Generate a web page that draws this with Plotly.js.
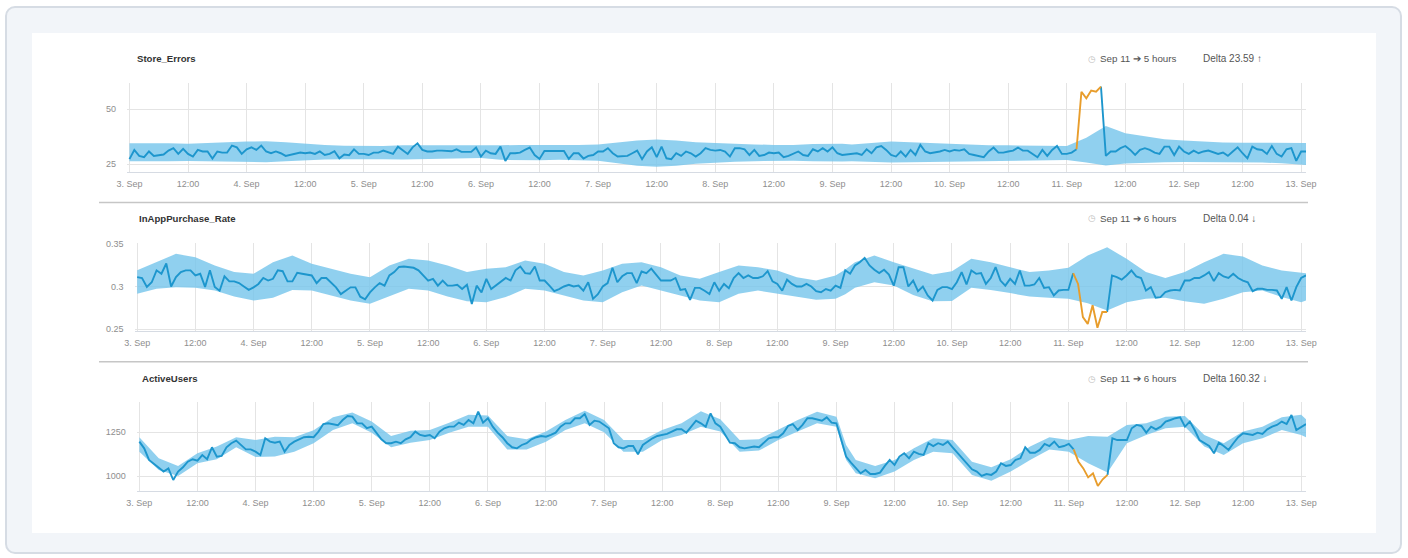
<!DOCTYPE html>
<html>
<head>
<meta charset="utf-8">
<script src="https://cdn.plot.ly/plotly-3.0.1.min.js"></script>
<style>
  html, body { margin: 0; padding: 0; background: #ffffff; }
  #frame { position: absolute; left: 5px; top: 6px; width: 1397px; height: 548px; box-sizing: border-box;
           border: 2px solid #d6dce4; border-radius: 10px; background: #f2f5f9; }
  #card { position: absolute; left: 32px; top: 33px; width: 1344px; height: 500px; background: #ffffff; }
  #chart { position: absolute; left: 0; top: 0; width: 1408px; height: 558px; }
</style>
</head>
<body>
<div id="frame"></div>
<div id="card"></div>
<div id="chart"></div>
<script>
// ---------- DATA (hourly, starting 3 Sep 00:00) ----------
const seriesNames = ['Store_Errors', 'InAppPurchase_Rate', 'ActiveUsers'];
const anomalyLabels = ['Sep 11 \u2794 5 hours', 'Sep 11 \u2794 6 hours', 'Sep 11 \u2794 6 hours'];
const deltaLabels = ['Delta 23.59 \u2191', 'Delta 0.04 \u2193', 'Delta 160.32 \u2193'];

const tickHours = [0,12,24,36,48,60,72,84,96,108,120,132,144,156,168,180,192,204,216,228,240];
const tickLabels = ['3. Sep','12:00','4. Sep','12:00','5. Sep','12:00','6. Sep','12:00','7. Sep','12:00',
  '8. Sep','12:00','9. Sep','12:00','10. Sep','12:00','11. Sep','12:00','12. Sep','12:00','13. Sep'];

const storeErrors = [
  27.3,31.5,28.8,28.2,30.8,28.8,29.1,29.4,31.2,32.3,29.7,32.0,
  29.7,28.5,31.5,30.8,30.8,27.6,30.8,30.3,30.3,33.5,32.7,29.7,
  31.8,32.7,31.5,33.5,30.8,30.0,30.8,30.0,28.8,29.2,29.7,30.3,
  30.0,30.3,29.7,30.8,29.2,29.7,30.9,27.7,29.4,29.1,31.8,29.7,
  29.7,29.2,30.3,30.3,31.2,30.3,29.7,33.0,31.5,29.7,32.7,34.5,
  31.5,30.8,30.8,31.2,31.2,30.9,30.9,31.8,30.6,30.6,30.6,32.6,
  28.5,31.2,30.0,29.7,33.0,26.5,30.0,30.0,30.3,31.5,32.6,29.2,
  27.4,31.0,31.0,31.0,31.0,31.0,27.4,30.0,30.0,27.6,28.8,29.2,
  30.8,30.8,32.3,30.0,28.5,28.5,28.8,30.0,31.2,27.3,30.8,32.7,
  28.2,33.0,27.7,27.3,30.0,28.8,30.8,30.0,28.5,30.0,32.3,31.5,
  31.2,31.5,30.8,28.5,32.3,32.3,31.8,29.2,31.5,28.8,29.2,30.3,
  30.0,30.3,28.2,28.8,29.7,30.8,29.2,28.8,31.8,30.8,32.3,30.8,
  32.7,30.0,29.2,29.5,29.7,30.0,29.2,31.8,30.0,32.7,33.3,31.5,
  29.2,28.5,30.8,28.5,31.5,29.2,33.8,30.8,30.0,30.3,30.8,31.5,
  30.8,31.5,31.2,31.8,29.7,29.2,28.8,28.2,30.8,32.6,30.3,30.3,
  30.8,31.2,32.6,31.2,31.2,29.7,28.2,31.5,28.8,31.5,33.3,29.7,
  29.7,30.3,31.8,58.0,55.0,58.5,58.0,60.3,28.8,30.8,30.8,32.3,
  33.3,31.5,29.2,31.5,32.3,31.5,30.3,29.7,33.0,33.0,29.2,33.0,
  30.8,29.7,31.2,30.0,30.8,31.2,30.3,29.7,30.3,28.8,30.8,32.7,
  30.0,27.7,33.0,31.8,31.5,29.7,33.3,29.7,28.5,31.8,32.3,26.5,
  30.8,30.8
];
const inAppPurchaseRate = [
  0.311,0.310,0.2995,0.305,0.319,0.315,0.327,0.300,0.311,0.317,0.319,0.319,
  0.313,0.315,0.2995,0.319,0.2995,0.295,0.312,0.306,0.306,0.304,0.300,0.296,
  0.299,0.303,0.310,0.307,0.309,0.319,0.318,0.306,0.306,0.316,0.315,0.314,
  0.313,0.304,0.310,0.310,0.305,0.299,0.291,0.295,0.299,0.299,0.288,0.285,
  0.293,0.299,0.304,0.301,0.313,0.317,0.323,0.3235,0.323,0.322,0.319,0.313,
  0.307,0.309,0.301,0.307,0.301,0.301,0.302,0.297,0.302,0.2795,0.301,0.293,
  0.309,0.297,0.301,0.305,0.310,0.307,0.319,0.3235,0.3157,0.315,0.3235,0.307,
  0.307,0.301,0.2945,0.297,0.300,0.302,0.300,0.301,0.295,0.305,0.2855,0.291,
  0.300,0.304,0.322,0.305,0.312,0.3157,0.3157,0.304,0.3176,0.3157,0.321,0.314,
  0.307,0.307,0.307,0.310,0.296,0.297,0.2843,0.2984,0.2984,0.295,0.291,0.305,
  0.295,0.303,0.298,0.310,0.3157,0.310,0.313,0.310,0.310,0.312,0.318,0.306,
  0.303,0.295,0.308,0.303,0.300,0.300,0.303,0.300,0.2945,0.2933,0.297,0.295,
  0.301,0.2984,0.319,0.315,0.3247,0.3286,0.3337,0.3247,0.3196,0.3157,0.3196,0.314,
  0.301,0.3227,0.3227,0.300,0.307,0.2945,0.300,0.2894,0.2835,0.296,0.2992,0.2992,
  0.297,0.305,0.3169,0.3024,0.3188,0.3149,0.3157,0.303,0.310,0.3227,0.307,0.301,
  0.309,0.303,0.3188,0.301,0.301,0.3024,0.310,0.2984,0.2992,0.2894,0.2953,0.296,
  0.296,0.3157,0.303,0.264,0.256,0.278,0.2515,0.270,0.270,0.313,0.311,0.308,
  0.313,0.3188,0.3118,0.310,0.2953,0.2992,0.2867,0.2875,0.2933,0.2953,0.296,0.2953,
  0.307,0.307,0.310,0.310,0.313,0.3169,0.3063,0.3157,0.3118,0.310,0.3149,0.310,
  0.307,0.305,0.2945,0.2973,0.2973,0.296,0.296,0.2953,0.2855,0.2992,0.2835,0.2992,
  0.310,0.313
];
const activeUsers = [
  1197,1159,1093,1070,1051,1027,1045,979,1027,1051,1083,1097,
  1089,1121,1097,1165,1112,1116,1165,1188,1203,1178,1153,1153,
  1140,1121,1216,1197,1191,1197,1140,1178,1197,1210,1222,1225,
  1222,1254,1297,1301,1295,1290,1320,1343,1339,1301,1301,1273,
  1282,1248,1210,1188,1188,1197,1188,1210,1222,1254,1235,1229,
  1235,1216,1254,1273,1282,1282,1305,1292,1320,1301,1367,1305,
  1330,1282,1248,1222,1188,1165,1159,1178,1188,1210,1222,1229,
  1225,1235,1248,1282,1301,1301,1330,1330,1354,1292,1316,1311,
  1292,1273,1188,1165,1159,1172,1172,1125,1178,1197,1216,1229,
  1235,1241,1254,1267,1267,1248,1282,1316,1301,1282,1358,1301,
  1282,1235,1191,1188,1165,1159,1165,1169,1165,1188,1216,1222,
  1222,1244,1286,1297,1263,1292,1330,1330,1324,1316,1335,1305,
  1301,1206,1112,1078,1045,1017,1036,1013,1013,1021,1059,1093,
  1064,1112,1131,1102,1140,1127,1121,1188,1172,1188,1178,1197,
  1165,1134,1102,1070,1040,1027,1002,1013,1008,1027,1074,1059,
  1064,1093,1102,1165,1134,1134,1150,1184,1172,1197,1165,1172,
  1184,1153,1083,1045,994,1017,945,983,1008,1216,1206,1206,
  1206,1273,1292,1286,1248,1282,1267,1282,1311,1320,1330,1335,
  1282,1311,1263,1206,1188,1172,1131,1191,1172,1150,1188,1222,
  1244,1241,1235,1248,1241,1267,1282,1292,1311,1297,1348,1263,
  1282,1297
];

// anomaly windows [start hour, end hour]
const storeAnomaly = [194, 199];
const rateAnomaly = [193, 200];
const usersAnomaly = [193, 200];

// expected range band (sampled)
const bandHours = [0,4,8,12,16,20,24,28,32,36,40,44,48,52,56,60,64,68,72,76,80,84,88,92,96,100,104,108,112,116,
  120,124,128,132,136,140,144,146,148,152,156,160,164,168,172,176,180,184,188,192,196,200,204,208,212,216,220,224,
  228,232,236,240,241];
const storeUpper = [34.5,34.6,34.5,34.3,34.5,35.0,35.3,35.4,35.0,34.3,
  33.8,33.4,33.2,33.3,33.6,33.6,33.4,33.3,33.3,33.6,
  33.8,33.7,33.6,33.8,34.0,34.8,35.8,36.2,35.8,35.0,
  34.6,34.4,34.0,33.8,33.8,34.2,34.4,34.3,34.0,34.8,35.3,
  35.0,34.6,34.2,33.8,33.6,33.6,33.4,33.2,33.3,37.0,
  42.4,39.1,37.6,36.4,35.8,35.3,34.9,34.8,34.8,34.8,34.8,34.7];
const storeLower = [26.3,26.2,26.4,26.5,26.3,26.0,25.8,25.9,26.3,26.8,
  27.1,27.3,27.4,27.3,27.2,27.4,27.7,27.9,27.8,27.0,
  26.8,26.8,27.0,26.8,26.6,25.5,24.3,23.9,24.3,25.2,
  25.8,26.1,26.4,26.6,26.6,26.3,26.1,26.2,26.4,26.0,25.8,
  25.9,26.0,26.0,26.2,26.4,26.4,26.6,26.8,26.9,25.8,
  24.4,25.3,25.7,25.9,26.0,26.0,26.0,25.9,25.8,25.4,24.8,24.7];
const rateUpper = [0.319,0.3286,0.3384,0.3345,0.3247,0.317,0.315,0.3286,0.3365,0.3267,
  0.3208,0.315,0.311,0.3247,0.3325,0.3306,0.3247,0.317,0.3208,0.3227,
  0.3306,0.3267,0.3169,0.313,0.3188,0.3267,0.3286,0.3227,0.313,0.309,
  0.3169,0.3247,0.3227,0.3188,0.311,0.307,0.313,0.320,0.3286,0.3365,0.3286,
  0.321,0.314,0.318,0.3325,0.3286,0.3227,0.3169,0.3188,0.322,0.3365,
  0.3463,0.3325,0.3169,0.310,0.3169,0.3286,0.3384,0.3353,0.3247,0.3188,0.3157,0.3157];
const rateLower = [0.2914,0.2973,0.2992,0.2984,0.2953,0.2882,0.2835,0.2867,0.296,0.2953,
  0.2894,0.2835,0.2796,0.2882,0.2973,0.2953,0.2882,0.2827,0.2816,0.2875,
  0.2973,0.2953,0.2894,0.2835,0.2816,0.2933,0.3012,0.2953,0.2894,0.2835,
  0.2816,0.2914,0.2953,0.2914,0.2875,0.2843,0.2855,0.291,0.2984,0.3051,0.3012,
  0.290,0.2825,0.283,0.2984,0.296,0.2922,0.2882,0.2867,0.2855,0.2804,
  0.2718,0.2816,0.2855,0.2867,0.2827,0.2796,0.2855,0.2933,0.2953,0.2875,0.2816,0.2835];
const usersUpper = [1222,1102,1059,1131,1170,1222,1206,1225,1222,1262,
  1335,1362,1311,1229,1259,1263,1305,1350,1345,1229,
  1210,1254,1320,1373,1320,1206,1206,1263,1301,1370,
  1324,1206,1210,1263,1320,1367,1339,1178,1093,1059,1093,
  1159,1216,1206,1083,1051,1097,1170,1222,1206,1229,
  1225,1292,1301,1339,1343,1235,1188,1254,1282,1335,1350,1324];
const usersLower = [1140,1036,1002,1074,1097,1165,1110,1112,1140,1188,
  1263,1301,1248,1165,1191,1206,1248,1282,1282,1153,
  1153,1197,1263,1301,1250,1140,1140,1206,1235,1282,
  1254,1140,1146,1206,1254,1301,1282,1093,1017,989,1027,
  1093,1140,1131,1008,975,1027,1093,1153,1140,1074,
  1021,1188,1235,1273,1282,1169,1121,1188,1216,1263,1235,1222];

const yTicks = [[25, 50], [0.25, 0.3, 0.35], [1000, 1250]];
const yTickText = [['25', '50'], ['0.25', '0.3', '0.35'], ['1000', '1250']];

// ---------- STYLE / LAYOUT ----------
const W = 1408, H = 558;
const FONT = 'Liberation Sans, Arial, Helvetica, sans-serif';
const LINE = '#1d96cd', BAND = 'rgba(120,198,236,0.82)', ORANGE = '#e89d2c';
const BASE = Date.UTC(2018, 8, 3, 0, 0);
function t(h) { return new Date(BASE + h * 3600000).toISOString().slice(0, 19).replace('T', ' '); }
const px = x => x / W, py = y => 1 - y / H;

const hours = storeErrors.map((_, i) => i);
const panels = [
  { vals: storeErrors, lo: storeLower, hi: storeUpper, anom: storeAnomaly, x: [127, 1306], y: [82.7, 171.7], yr: [21.6, 62.1], hx0: -0.5, titleX: 134.5, rowY: 58.7 },
  { vals: inAppPurchaseRate, lo: rateLower, hi: rateUpper, anom: rateAnomaly, x: [134.5, 1306], y: [243.3, 330.7], yr: [0.248, 0.3508], hx0: -0.55, titleX: 137, rowY: 218.3 },
  { vals: activeUsers, lo: usersLower, hi: usersUpper, anom: usersAnomaly, x: [136.7, 1306], y: [402.3, 491], yr: [916.5, 1420.5], hx0: -0.55, titleX: 139.5, rowY: 378.6 }
];

const traces = [];
const layout = {
  width: W, height: H, margin: { l: 0, r: 0, t: 0, b: 0 },
  paper_bgcolor: 'rgba(0,0,0,0)', plot_bgcolor: 'rgba(0,0,0,0)',
  showlegend: false, hovermode: false, font: { family: FONT },
  annotations: [], shapes: []
};
const bandX = bandHours.map(t);
const lineX = hours.map(t);

panels.forEach((p, i) => {
  const sfx = i === 0 ? '' : String(i + 1);
  const xa = 'x' + sfx, ya = 'y' + sfx;
  traces.push({ x: bandX, y: p.lo, xaxis: xa, yaxis: ya, type: 'scatter', mode: 'lines', line: { width: 0, color: BAND } });
  traces.push({ x: bandX, y: p.hi, xaxis: xa, yaxis: ya, type: 'scatter', mode: 'lines', line: { width: 0, color: BAND }, fill: 'tonexty', fillcolor: BAND });
  const blue = p.vals.map((v, h) => (h > p.anom[0] && h < p.anom[1]) ? null : v);
  const orange = p.vals.map((v, h) => (h >= p.anom[0] && h <= p.anom[1]) ? v : null);
  traces.push({ x: lineX, y: blue, xaxis: xa, yaxis: ya, type: 'scatter', mode: 'lines', connectgaps: false, line: { width: 1.9, color: LINE, shape: 'linear' } });
  traces.push({ x: lineX, y: orange, xaxis: xa, yaxis: ya, type: 'scatter', mode: 'lines', connectgaps: false, line: { width: 1.9, color: ORANGE } });

  layout['xaxis' + sfx] = {
    domain: [px(p.x[0]), px(p.x[1])], anchor: ya, type: 'date',
    range: [t(p.hx0), t(241)], tickvals: tickHours.map(t), ticktext: tickLabels, tickmode: 'array',
    showgrid: true, gridcolor: '#e4e4e4', gridwidth: 1, zeroline: false,
    showline: true, linecolor: '#d6dbe3', linewidth: 1, ticks: '',
    tickfont: { family: FONT, size: 9, color: '#8e8e8e' }, ticklabelstandoff: 3, fixedrange: true
  };
  layout['yaxis' + sfx] = {
    domain: [py(p.y[1]), py(p.y[0])], anchor: xa, range: p.yr,
    tickvals: yTicks[i], ticktext: yTickText[i], tickmode: 'array',
    showgrid: true, gridcolor: '#e4e4e4', gridwidth: 1, zeroline: false, showline: false, ticks: '',
    tickfont: { family: FONT, size: 9, color: '#8e8e8e' }, ticklabelstandoff: 10, fixedrange: true
  };

  layout.annotations.push({ text: '<b>' + seriesNames[i] + '</b>', xref: 'paper', yref: 'paper', x: px(p.titleX), y: py(p.rowY),
    xanchor: 'left', yanchor: 'middle', showarrow: false, font: { family: FONT, size: 9.6, color: '#333333' } });
  layout.annotations.push({ text: '\u25F7', xref: 'paper', yref: 'paper', x: px(1092), y: py(p.rowY),
    xanchor: 'center', yanchor: 'middle', showarrow: false, font: { family: 'DejaVu Sans', size: 9, color: '#c0c0c0' } });
  layout.annotations.push({ text: anomalyLabels[i], xref: 'paper', yref: 'paper', x: px(1097.5), y: py(p.rowY),
    xanchor: 'left', yanchor: 'middle', showarrow: false, font: { family: FONT, size: 9.8, color: '#555555' } });
  layout.annotations.push({ text: deltaLabels[i], xref: 'paper', yref: 'paper', x: px(1200.5), y: py(p.rowY),
    xanchor: 'left', yanchor: 'middle', showarrow: false, font: { family: FONT, size: 10, color: '#555555' } });
});

// panel separators
[202.5, 361.8].forEach(y => layout.shapes.push({ type: 'line', xref: 'paper', yref: 'paper',
  x0: px(99), x1: px(1308), y0: py(y), y1: py(y), line: { color: '#c6c6c6', width: 1.5 } }));

Plotly.newPlot('chart', traces, layout, { staticPlot: true, displayModeBar: false });
</script>
</body>
</html>
